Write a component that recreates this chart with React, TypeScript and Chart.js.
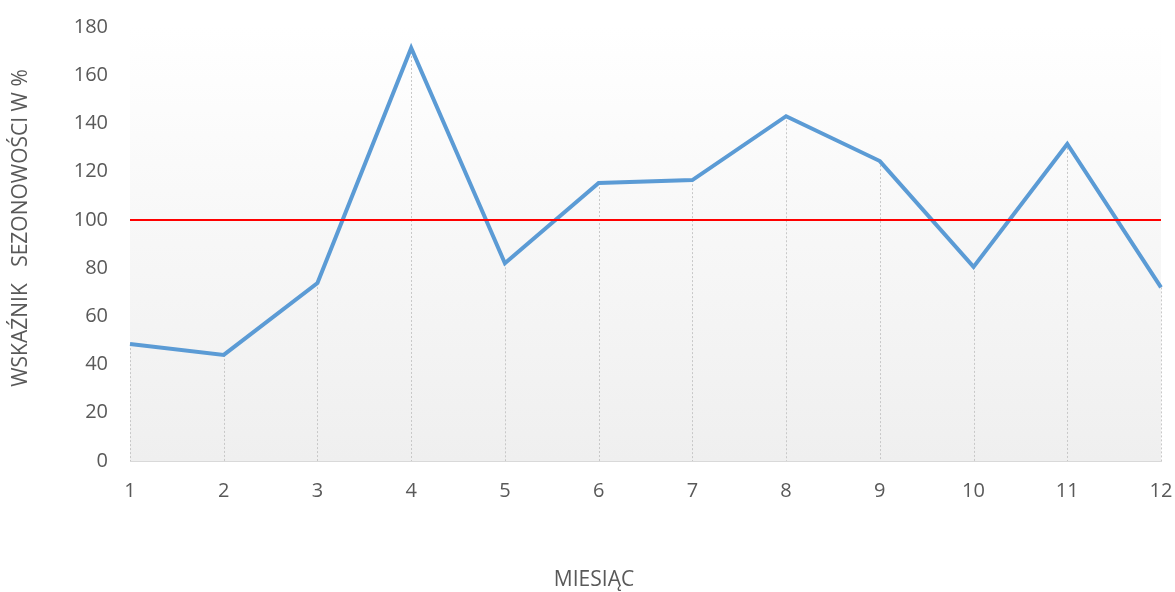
import React, { useEffect, useRef } from "react";
import { Chart, registerables } from "chart.js";

Chart.register(...registerables);

const months = ["1", "2", "3", "4", "5", "6", "7", "8", "9", "10", "11", "12"];
const seasonality = [48.5, 44, 73.8, 171.3, 82, 115.3, 116.5, 143, 124.4, 80.5, 131.5, 72];
const reference = [100, 100, 100, 100, 100, 100, 100, 100, 100, 100, 100, 100];
const yTicks = [0, 20, 40, 60, 80, 100, 120, 140, 160, 180];
const xTitle = "MIESIĄC";
const yTitle = "WSKAŹNIK   SEZONOWOŚCI W %";

const FONT = "'Open Sans', 'Noto Sans', sans-serif";
const TEXT = "#595959";

const backgroundPlugin = {
  id: "bgGradient",
  beforeDraw(chart: any) {
    const { ctx, chartArea } = chart;
    if (!chartArea) return;
    const g = ctx.createLinearGradient(0, chartArea.top, 0, chartArea.bottom);
    g.addColorStop(0, "#ffffff");
    g.addColorStop(1, "#efefef");
    ctx.save();
    ctx.fillStyle = g;
    ctx.fillRect(chartArea.left, chartArea.top, chartArea.right - chartArea.left, chartArea.bottom - chartArea.top);
    ctx.restore();
  },
};

const dropLinePlugin = {
  id: "dropLines",
  beforeDatasetsDraw(chart: any) {
    const { ctx, chartArea } = chart;
    const meta = chart.getDatasetMeta(1);
    if (!meta || !meta.data) return;
    ctx.save();
    ctx.strokeStyle = "#c8c8c8";
    ctx.lineWidth = 1;
    ctx.setLineDash([2, 2]);
    meta.data.forEach((pt: any) => {
      const x = Math.round(pt.x) + 0.5;
      ctx.beginPath();
      ctx.moveTo(x, pt.y);
      ctx.lineTo(x, chartArea.bottom);
      ctx.stroke();
    });
    ctx.restore();
  },
};

const titlesPlugin = {
  id: "axisTitles",
  afterDraw(chart: any) {
    const { ctx } = chart;
    ctx.save();
    ctx.fillStyle = TEXT;
    ctx.font = `21px ${FONT}`;
    ctx.textAlign = "center";
    ctx.textBaseline = "middle";
    ctx.fillText(xTitle, 594, 580);
    ctx.translate(21, 228);
    ctx.rotate(-Math.PI / 2);
    ctx.fillText(yTitle, 0, 0);
    ctx.restore();
  },
};

export default function App() {
  const ref = useRef<HTMLCanvasElement | null>(null);
  useEffect(() => {
    document.body.style.margin = "0";
    const canvas = ref.current;
    if (!canvas) return;
    const chart = new Chart(canvas, {
      type: "line",
      data: {
        labels: months,
        datasets: [
          {
            label: "100",
            data: reference,
            borderColor: "#ff0000",
            borderWidth: 2,
            pointRadius: 0,
            fill: false,
            order: 0,
          },
          {
            label: "Wskaźnik",
            data: seasonality,
            borderColor: "#5b9bd5",
            borderWidth: 4,
            pointRadius: 0,
            fill: false,
            tension: 0,
            order: 1,
          },
        ],
      },
      options: {
        animation: false,
        responsive: false,
        maintainAspectRatio: false,
        layout: { padding: { top: 27, right: 14, bottom: 0, left: 0 } },
        plugins: {
          legend: { display: false },
          tooltip: { enabled: false },
        },
        scales: {
          x: {
            offset: false,
            grid: { display: false, drawTicks: false },
            border: { display: true, color: "#d9d9d9", width: 1 },
            ticks: { color: TEXT, font: { family: FONT, size: 20 }, padding: 18, maxRotation: 0 },
            afterFit(scale: any) {
              scale.height = 131;
              scale.paddingLeft = 0;
              scale.paddingRight = 0;
            },
          },
          y: {
            min: 0,
            max: 180,
            afterBuildTicks(scale: any) {
              scale.ticks = yTicks.map((v) => ({ value: v }));
            },
            grid: { display: false, drawTicks: false },
            border: { display: false },
            ticks: { color: TEXT, font: { family: FONT, size: 20 }, padding: 22 },
            afterFit(scale: any) {
              scale.width = 130;
              scale.paddingTop = 0;
              scale.paddingBottom = 0;
            },
          },
        },
      },
      plugins: [backgroundPlugin, dropLinePlugin, titlesPlugin],
    });
    return () => chart.destroy();
  }, []);
  return (
    <div style={{ width: 1175, height: 592 }}>
      <canvas ref={ref} width={1175} height={592} style={{ display: "block" }} />
    </div>
  );
}
